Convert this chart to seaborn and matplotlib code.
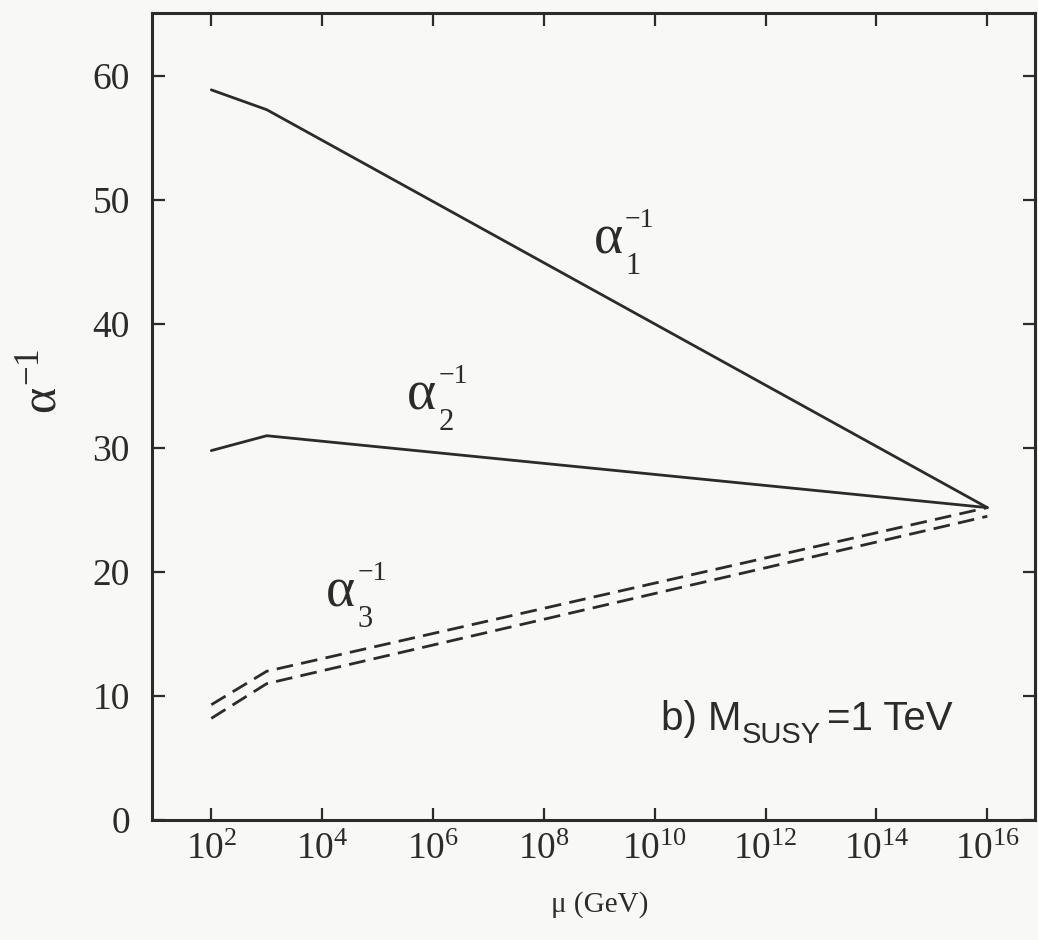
import numpy as np
import pandas as pd
import matplotlib
matplotlib.use("Agg")
import matplotlib.pyplot as plt
import seaborn as sns

# ---- data ----
mu = [1e2, 1e3, 1e16]
alpha1_inv = [58.9, 57.3, 25.2]
alpha2_inv = [29.8, 31.0, 25.2]
alpha3_inv_upper = [9.3, 12.0, 25.2]
alpha3_inv_lower = [8.2, 11.0, 24.5]
xtick_exps = [2, 4, 6, 8, 10, 12, 14, 16]
yticks = [0, 10, 20, 30, 40, 50, 60]
curve_labels = [("1", 10**8.90, 45.7), ("2", 10**5.53, 33.1), ("3", 10**4.07, 17.2)]

sns.set_theme(style="ticks")
plt.rcParams["font.family"] = ["Liberation Serif", "DejaVu Serif"]
plt.rcParams["mathtext.fontset"] = "custom"
plt.rcParams["mathtext.rm"] = "Liberation Serif"
plt.rcParams["mathtext.it"] = "Liberation Serif"
plt.rcParams["mathtext.sf"] = "Liberation Sans"

ink = "#2b2b2b"
bg = "#f8f8f6"

fig = plt.figure(figsize=(10.38, 9.4), dpi=100, facecolor=bg)
ax = fig.add_axes([152/1038, 1-820/940, (1035-152)/1038, (820-13)/940])
ax.set_facecolor(bg)

df = pd.concat([
    pd.DataFrame({"mu": mu, "inv": alpha1_inv, "s": "a1"}),
    pd.DataFrame({"mu": mu, "inv": alpha2_inv, "s": "a2"}),
])
sns.lineplot(data=df, x="mu", y="inv", units="s", estimator=None, sort=False,
             color=ink, lw=2.0, ax=ax)
for vals in (alpha3_inv_upper, alpha3_inv_lower):
    sns.lineplot(x=mu, y=vals, estimator=None, sort=False, color=ink, lw=2.0,
                 linestyle=(0, (6, 3)), ax=ax)

ax.set_xscale("log")
ax.set_xlim(10**0.93, 10**16.86)
ax.set_ylim(0, 65.1)
ax.set_xticks([10.0**e for e in xtick_exps])
ax.set_xticklabels([r"$10^{%d}$" % e for e in xtick_exps])
ax.xaxis.set_minor_locator(matplotlib.ticker.NullLocator())
ax.set_yticks(yticks)
ax.set_yticklabels([str(v) for v in yticks])
ax.tick_params(axis="both", which="major", direction="in", length=9, width=1.6,
               color=ink, labelcolor=ink, top=True, right=True)
ax.tick_params(axis="x", labelsize=27, pad=9)
ax.tick_params(axis="y", labelsize=27, pad=16)
for sp in ax.spines.values():
    sp.set_linewidth(2.2)
    sp.set_color(ink)
ax.set_xlabel("")
ax.set_ylabel("")

# curve labels: alpha with stacked sub/superscripts
for sub, xv, yv in curve_labels:
    ax.text(xv, yv, "α", fontsize=40, color=ink, ha="left", va="baseline")
    ax.annotate("−1", xy=(xv, yv), xytext=(22.5, 19), textcoords="offset points",
                fontsize=20, color=ink, ha="left", va="baseline")
    ax.annotate(sub, xy=(xv, yv), xytext=(23, -14.5), textcoords="offset points",
                fontsize=22, color=ink, ha="left", va="baseline")

# annotation b) M_SUSY = 1 TeV
sans = "Liberation Sans"
t1 = ax.text(10**10.12, 6.6, "b) M", fontsize=29, color=ink, family=sans,
             ha="left", va="bottom")
t2 = ax.annotate("SUSY", xy=(1, 0), xycoords=t1, xytext=(0, -8),
                 textcoords="offset points", fontsize=21, color=ink, family=sans,
                 ha="left", va="bottom")
t3 = ax.annotate("=1 TeV", xy=(1, 0), xycoords=(t2, t1), xytext=(4, 0),
                 textcoords="offset points", fontsize=29, color=ink, family=sans,
                 ha="left", va="bottom")

fig.text(43/1038, 1-381/940, r"$\alpha^{-1}$", fontsize=36, color=ink, rotation=90,
         ha="center", va="center")
fig.text(600/1038, 1-905/940, "μ (GeV)", fontsize=21, color=ink, ha="center", va="center")

fig.savefig("out.png", dpi=100, facecolor=bg)
